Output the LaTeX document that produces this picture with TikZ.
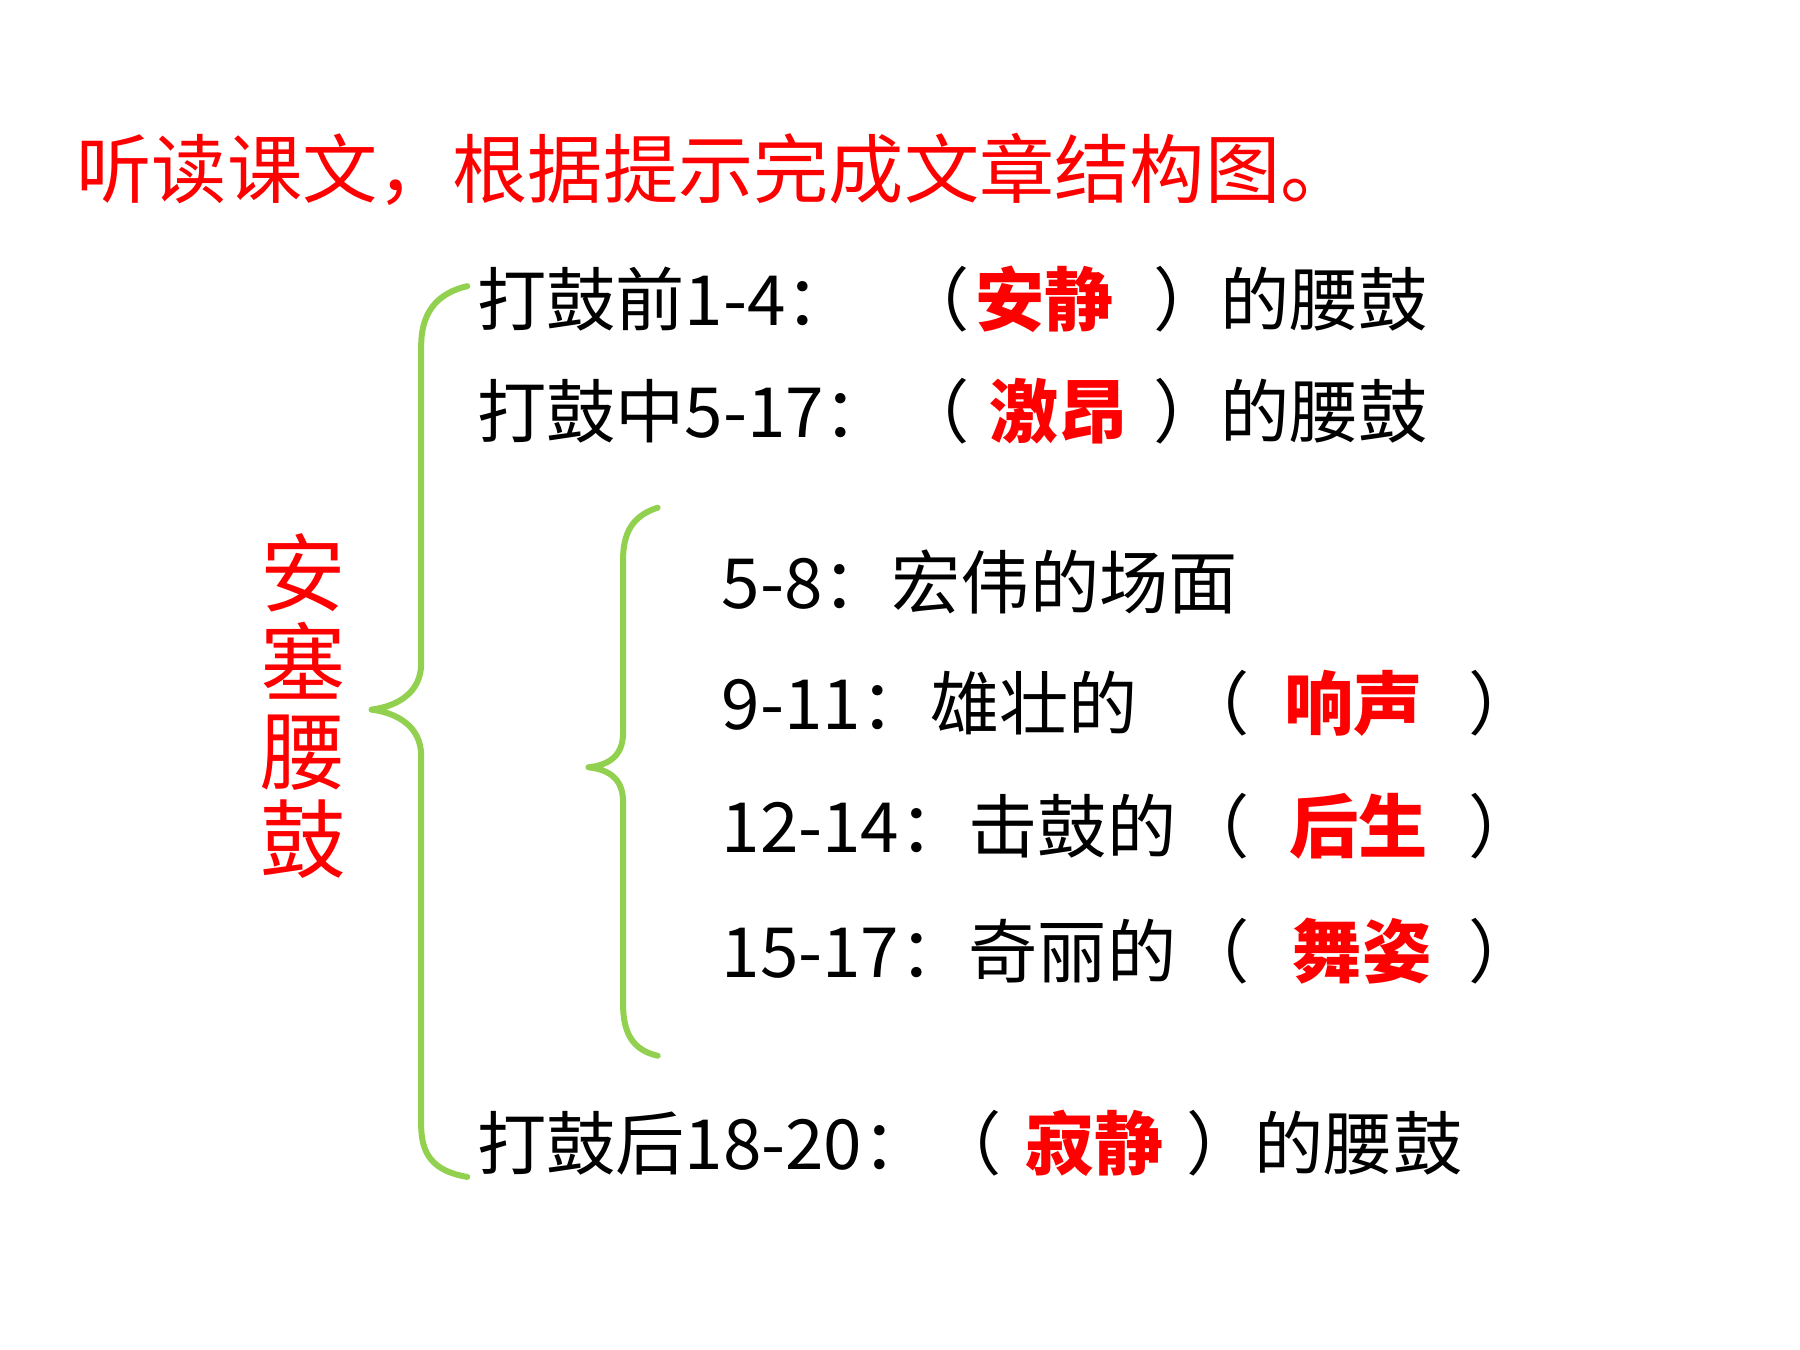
\documentclass[tikz,border=0pt]{standalone}
\usepackage{fontspec}
\setmainfont{Noto Sans CJK SC}
\definecolor{tred}{HTML}{FF0000}
\definecolor{bgreen}{HTML}{92D050}
\tikzset{
  txt/.style={anchor=west, inner sep=0pt, font=\fontsize{30}{36}\selectfont, text height=0.8em, text depth=0.2em, yshift=-6.5pt, xshift=-2.5pt},
  fill/.style={txt, text=tred, font=\fontsize{30}{36}\selectfont\bfseries},
  par/.style={anchor=center, inner sep=0pt, font=\fontsize{30}{36}\selectfont, text height=0.8em, text depth=0.2em, yshift=-6.5pt},
  brace/.style={draw=bgreen, line width=2.6pt, line cap=round, line join=round},
}
\begin{document}
\begin{tikzpicture}[x=0.5pt,y=-0.5pt]
\useasboundingbox (0,0) rectangle (1560,1170);
% title
\node[anchor=west, inner sep=0pt, text=tred, font=\fontsize{32.6}{36}\selectfont, text height=0.8em, text depth=0.2em, yshift=-7.5pt] (title) at (66,150) {听读课文，根据提示完成文章结构图。};
% vertical title
\node[anchor=center, inner sep=0pt, text=tred, font=\fontsize{37}{38.5}\selectfont, align=center] (main) at (263,612) {安\\塞\\腰\\鼓};
% big brace
\draw[brace] (405,248) .. controls (375,255) and (365,275) .. (365,300) -- (365,575) .. controls (365,600) and (345,612) .. (322,615) .. controls (345,618) and (365,630) .. (365,655) -- (365,975) .. controls (365,1000) and (375,1015) .. (405,1020);
% small brace
\draw[brace] (570,440) .. controls (548,447) and (540,462) .. (540,485) -- (540,635) .. controls (540,655) and (528,663) .. (510,665) .. controls (528,667) and (540,675) .. (540,695) -- (540,870) .. controls (540,895) and (548,910) .. (570,915);
% row 1
\node[txt] (r1a) at (418,263) {打鼓前1-4：};
\node[par] (r1l) at (810,263) {（};
\node[fill] (r1f) at (850,263) {安静};
\node[par] (r1r) at (1030,263) {）};
\node[txt] (r1b) at (1062,263) {的腰鼓};
% row 2
\node[txt] (r2a) at (418,360) {打鼓中5-17：};
\node[par] (r2l) at (810,360) {（};
\node[fill] (r2f) at (862,360) {激昂};
\node[par] (r2r) at (1030,360) {）};
\node[txt] (r2b) at (1062,360) {的腰鼓};
% sub rows
\node[txt] (s1) at (630,508) {5-8：宏伟的场面};
\node[txt] (s2a) at (630,613) {9-11：雄壮的};
\node[par] (s2l) at (1053,613) {（};
\node[fill] (s2f) at (1118,613) {响声};
\node[par] (s2r) at (1303,613) {）};
\node[txt] (s3a) at (630,720) {12-14：击鼓的};
\node[par] (s3l) at (1053,720) {（};
\node[fill] (s3f) at (1122,720) {后生};
\node[par] (s3r) at (1303,720) {）};
\node[txt] (s4a) at (630,828) {15-17：奇丽的};
\node[par] (s4l) at (1053,828) {（};
\node[fill] (s4f) at (1125,828) {舞姿};
\node[par] (s4r) at (1303,828) {）};
% last row
\node[txt] (r3a) at (418,995) {打鼓后18-20：};
\node[par] (r3l) at (838,995) {（};
\node[fill] (r3f) at (893,995) {寂静};
\node[par] (r3r) at (1058,995) {）};
\node[txt] (r3b) at (1092,995) {的腰鼓};
\end{tikzpicture}
\end{document}
